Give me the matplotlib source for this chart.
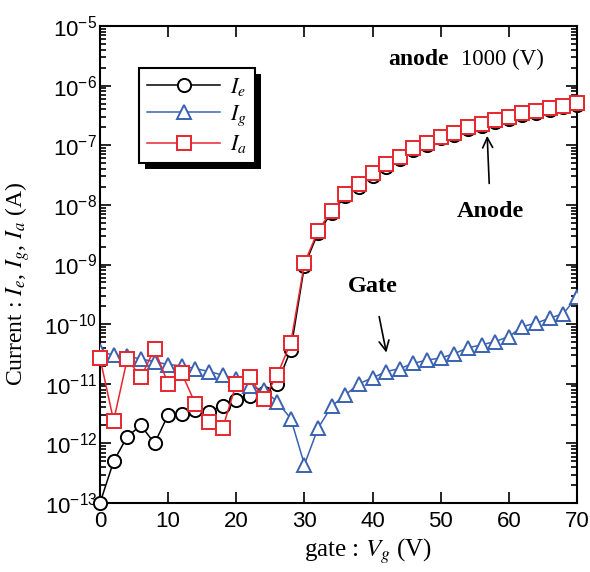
import matplotlib
matplotlib.use("Agg")
import matplotlib.pyplot as plt
from matplotlib.patches import Rectangle
from matplotlib.ticker import FixedLocator, FuncFormatter, LogLocator, NullFormatter, NullLocator
import numpy as np

plt.rcParams['mathtext.fontset'] = 'stix'
plt.rcParams['font.family'] = 'Liberation Sans'

# gate voltage (V), one point every 2 V
gate_v = list(range(0, 72, 2))

# emitter current I_e (A)
i_e = [1.0e-13, 5.0e-13, 1.3e-12, 2.0e-12, 1.0e-12, 3.0e-12, 3.1e-12, 3.6e-12,
       3.4e-12, 4.3e-12, 5.4e-12, 6.3e-12, 7.0e-12, 1.0e-11, 3.7e-11, 9.5e-10,
       3.4e-9, 7.4e-9, 1.4e-8, 2.0e-8, 3.1e-8, 4.4e-8, 5.9e-8, 8.4e-8,
       1.0e-7, 1.3e-7, 1.5e-7, 1.85e-7, 2.1e-7, 2.5e-7, 2.8e-7, 3.2e-7,
       3.5e-7, 3.9e-7, 4.3e-7, 4.7e-7]

# gate current I_g (A)
i_g = [3.5e-11, 3.0e-11, 2.9e-11, 2.6e-11, 2.35e-11, 2.1e-11, 2.0e-11, 1.8e-11,
       1.6e-11, 1.4e-11, 1.2e-11, 9.0e-12, 7.9e-12, 5.0e-12, 2.6e-12, 4.4e-13,
       1.8e-12, 4.2e-12, 6.5e-12, 1.0e-11, 1.26e-11, 1.6e-11, 1.8e-11, 2.2e-11,
       2.5e-11, 2.7e-11, 3.2e-11, 4.0e-11, 4.5e-11, 5.1e-11, 6.2e-11, 9.1e-11,
       1.04e-10, 1.26e-10, 1.5e-10, 2.9e-10]

# anode current I_a (A)
i_a = [2.7e-11, 2.4e-12, 2.6e-11, 1.3e-11, 3.8e-11, 1.0e-11, 1.5e-11, 4.6e-12,
       2.3e-12, 1.8e-12, 1.0e-11, 1.3e-11, 5.5e-12, 1.4e-11, 4.9e-11, 1.05e-9,
       3.7e-9, 8.0e-9, 1.5e-8, 2.2e-8, 3.4e-8, 4.8e-8, 6.4e-8, 9.1e-8,
       1.1e-7, 1.4e-7, 1.6e-7, 2.0e-7, 2.3e-7, 2.7e-7, 3.0e-7, 3.5e-7,
       3.8e-7, 4.2e-7, 4.6e-7, 5.1e-7]

red = '#e8262e'
blue = '#3a62b0'
serif = 'Liberation Serif'

fig = plt.figure(figsize=(5.9, 5.72), dpi=100)
ax = fig.add_axes([100/590, 69/572, 477/590, 477/572])

mk = dict(markersize=9.5, markeredgewidth=1.4, markerfacecolor='white', linewidth=1.1)
ax.plot(gate_v, i_e, '-o', color='black', label='$I_e$', clip_on=False, zorder=3, **mk)
ax.plot(gate_v, i_g, '-^', color=blue, markeredgecolor=blue, label='$I_g$', zorder=4, **mk)
ax.plot(gate_v, i_a, '-s', color=red, markeredgecolor=red, label='$I_a$', clip_on=False, zorder=5, **mk)

ax.set_yscale('log')
ax.set_xlim(0, 70)
ax.set_ylim(1e-13, 1e-5)
ax.xaxis.set_major_locator(FixedLocator([0, 10, 20, 30, 40, 50, 60, 70]))
ax.xaxis.set_minor_locator(NullLocator())
ax.yaxis.set_major_locator(LogLocator(base=10, numticks=20))
ax.yaxis.set_minor_locator(LogLocator(base=10, subs=np.arange(2, 10), numticks=20))
ax.yaxis.set_minor_formatter(NullFormatter())
ax.yaxis.set_major_formatter(FuncFormatter(lambda v, p: r'$\mathregular{10^{%d}}$' % round(np.log10(v))))
ax.tick_params(which='both', direction='in', top=True, right=True, width=1.2, labelsize=16)
ax.tick_params(which='major', length=8)
ax.tick_params(which='minor', length=4)
ax.tick_params(axis='x', pad=6)
ax.tick_params(axis='y', pad=2)
for s in ax.spines.values():
    s.set_linewidth(1.5)

fig.text(368/590, 1 - 551/572, 'gate : $V_g$ (V)', family=serif, fontsize=18,
         ha='center', va='center')
fig.text(18/590, 1 - 284/572, 'Current : $I_e$, $I_g$, $I_a$ (A)', family=serif, fontsize=17,
         ha='center', va='center', rotation=90)

ax.text(42.3, 2.2e-6, 'anode', family=serif, fontweight='bold', fontsize=17, va='baseline')
ax.text(53.0, 2.2e-6, '1000 (V)', family=serif, fontsize=16.5, va='baseline')

ax.annotate('Anode', xy=(56.8, 1.6e-7), xytext=(57.3, 7.6e-9), family=serif, fontweight='bold',
            fontsize=17.5, ha='center', va='center',
            arrowprops=dict(arrowstyle='->', color='black', lw=1.2, shrinkA=11, mutation_scale=18))
ax.annotate('Gate', xy=(42.1, 3.0e-11), xytext=(40.1, 4.2e-10), family=serif, fontweight='bold',
            fontsize=17.5, ha='center', va='center',
            arrowprops=dict(arrowstyle='->', color='black', lw=1.2, shrinkA=12, mutation_scale=18))

leg = ax.legend(loc='upper left', bbox_to_anchor=(0.082, 0.912), borderaxespad=0,
                fancybox=False, edgecolor='black', framealpha=1, fontsize=16,
                handlelength=3.3, handletextpad=0.45, labelspacing=0.25, borderpad=0.35)
leg.get_frame().set_linewidth(1.5)
leg.set_zorder(10)

fig.canvas.draw()
bb = leg.get_frame().get_window_extent()
shadow = Rectangle((bb.x0 + 6, bb.y0 - 6), bb.width, bb.height, transform=None,
                   facecolor='black', edgecolor='none', zorder=9)
ax.add_artist(shadow)

fig.savefig('out.png', dpi=100)
